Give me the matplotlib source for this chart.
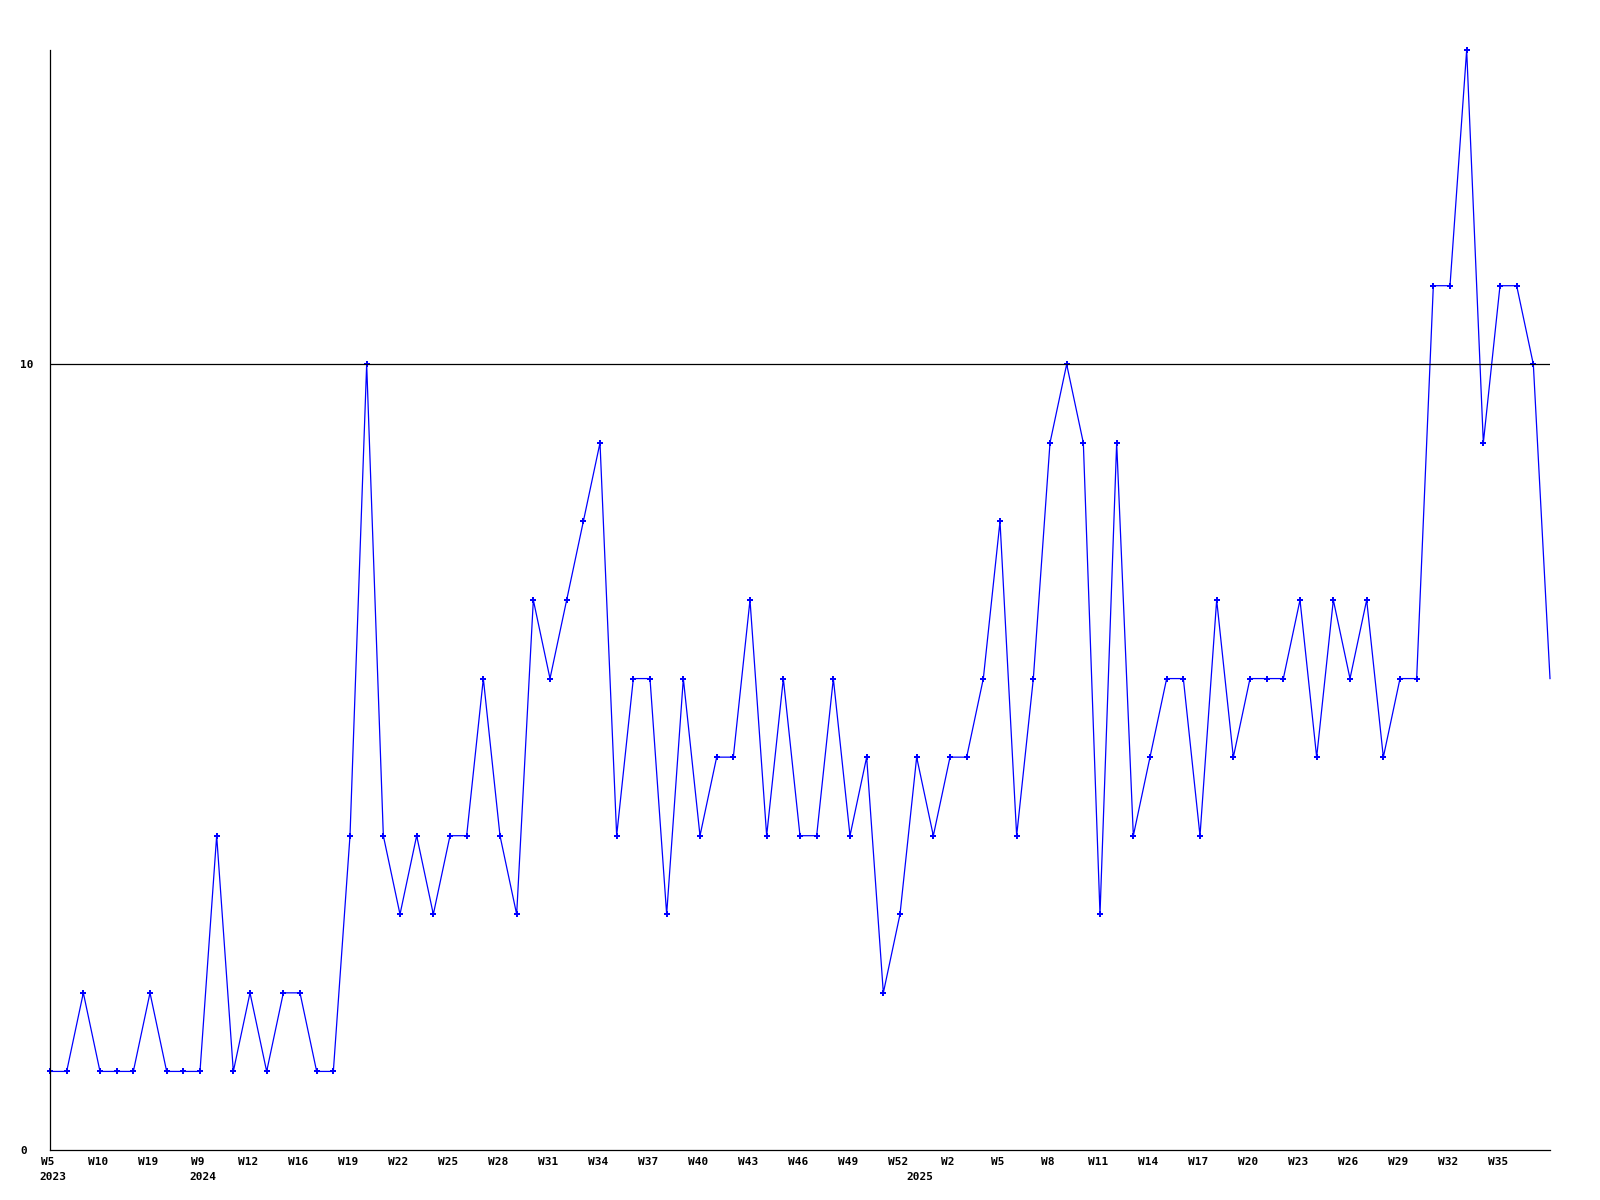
import numpy as np
import matplotlib
matplotlib.use("Agg")
import matplotlib.pyplot as plt
import matplotlib.transforms as mtransforms

# weekly counts
values = [1, 1, 2, 1, 1, 1, 2, 1, 1, 1,
          4, 1, 2, 1, 2, 2, 1, 1, 4, 10,
          4, 3, 4, 3, 4, 4, 6, 4, 3, 7,
          6, 7, 8, 9, 4, 6, 6, 3, 6, 4,
          5, 5, 7, 4, 6, 4, 4, 6, 4, 5,
          2, 3, 5, 4, 5, 5, 6, 8, 4, 6,
          9, 10, 9, 3, 9, 4, 5, 6, 6, 4,
          7, 5, 6, 6, 6, 7, 5, 7, 6, 7,
          5, 6, 6, 11, 11, 14, 9, 11, 11, 10,
          6]

# every third week is labelled
week_labels = ["W5", "W10", "W19", "W9", "W12", "W16", "W19", "W22", "W25", "W28",
               "W31", "W34", "W37", "W40", "W43", "W46", "W49", "W52", "W2", "W5",
               "W8", "W11", "W14", "W17", "W20", "W23", "W26", "W29", "W32", "W35"]
year_labels = ["2023", "2024", "2025"]
year_pos = [0, 9, 52]

y_ticks = [0, 10]

x = np.arange(len(values))

fig = plt.figure(figsize=(16, 12), dpi=100)
ax = fig.add_axes([50 / 1600, 50 / 1200, 1500 / 1600, 1100 / 1200])

font = dict(family="DejaVu Sans Mono", weight="bold", size=8)

# data line, last point drawn without marker
ax.plot(x, values, color="#0000ff", linewidth=0.9, marker="P", markersize=4,
        markeredgewidth=0, markevery=list(range(len(values) - 1)), zorder=2,
        clip_on=False)

# single reference line at 10
ax.axhline(10, color="black", linewidth=0.9, zorder=3)

ax.set_xlim(0, len(values) - 1)
ax.set_ylim(0, 14)

for side in ["top", "right"]:
    ax.spines[side].set_visible(False)
for side in ["left", "bottom"]:
    ax.spines[side].set_linewidth(0.9)

ax.set_yticks(y_ticks)
ax.set_yticklabels([str(v) for v in y_ticks], **font)
ax.tick_params(axis="y", length=0, pad=21.6)
for lbl in ax.get_yticklabels():
    lbl.set_horizontalalignment("left")

ax.set_xticks(x[::3][:len(week_labels)])
ax.set_xticklabels(week_labels, **font)
ax.tick_params(axis="x", length=0, pad=5)
shift = mtransforms.ScaledTranslation(-2 / 100, 0, fig.dpi_scale_trans)
for lbl in ax.get_xticklabels():
    lbl.set_transform(lbl.get_transform() + shift)

for lab, pos in zip(year_labels, year_pos):
    ax.annotate(lab, xy=(pos, 0), xycoords=("data", "axes fraction"),
                xytext=(2, -15.5), textcoords="offset points",
                ha="center", va="top", **font)

fig.savefig("out.png", dpi=100, facecolor="white")
